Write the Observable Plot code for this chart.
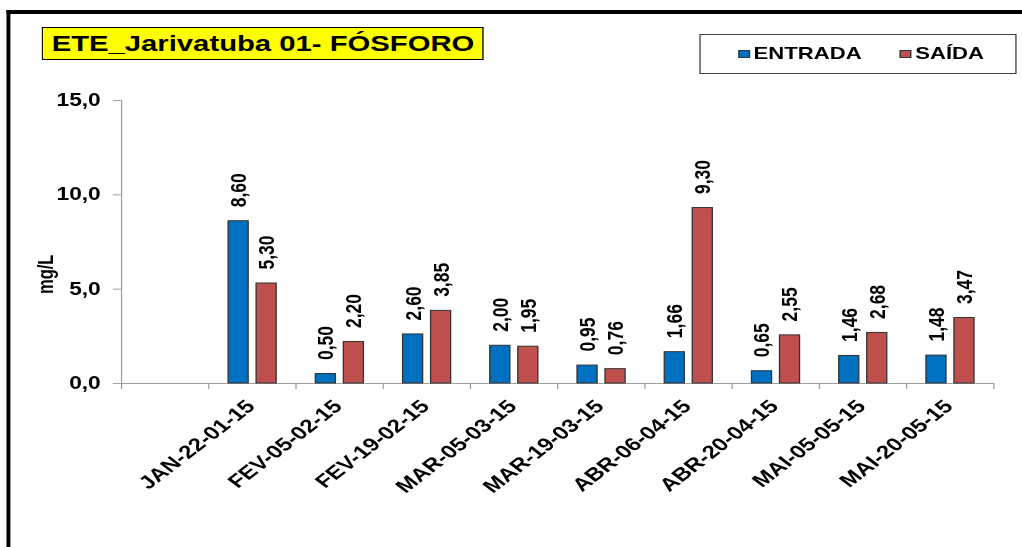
<!DOCTYPE html>
<html>
<head>
<meta charset="utf-8">
<script src="https://cdn.jsdelivr.net/npm/d3@7"></script>
<script src="https://cdn.jsdelivr.net/npm/@observablehq/plot@0.6"></script>
<style>
  html, body { margin: 0; padding: 0; background: #fff; overflow: hidden; width: 1022px; height: 547px; }
  body { font-family: "Liberation Sans", Arial, sans-serif; }
  #wrap { position: absolute; left: 0; top: 0; width: 786.15px; height: 547px; transform: scaleX(1.3); transform-origin: 0 0; }
  .frameL { position: absolute; left: 5.4px; top: 10px; width: 3.1px; height: 560px; background: #000; }
  .frameT { position: absolute; left: 5.4px; top: 10px; width: 800px; height: 4px; background: #000; }
  #title { position: absolute; left: 32.3px; top: 27px; width: 338px; height: 31px; background: #ffff00; border: 1.5px solid #000;
           font-weight: bold; font-size: 22.5px; line-height: 31px; text-align: center; color: #000; white-space: nowrap; }
  #legend { position: absolute; left: 537.7px; top: 34px; width: 242px; height: 38px; border: 1px solid #404040; background: #fff;
            font-weight: bold; font-size: 17px; color: #000; }
  .item { position: absolute; top: 0; height: 38px; line-height: 38px; white-space: nowrap; }
  .sw { position: absolute; top: 15px; width: 9px; height: 8px; border: 0.8px solid #333; box-sizing: border-box; }
  #chart { position: absolute; left: 0; top: 0; }
</style>
</head>
<body>
<div id="wrap">
  <div class="frameL"></div>
  <div class="frameT"></div>
  <div id="chart"></div>
  <div id="title"></div>
  <div id="legend"></div>
</div>
<script>
// ---- data ----
const titleText = "ETE_Jarivatuba 01- FÓSFORO";
const yLabel = "mg/L";
const categories = ["", "JAN-22-01-15", "FEV-05-02-15", "FEV-19-02-15", "MAR-05-03-15", "MAR-19-03-15",
                    "ABR-06-04-15", "ABR-20-04-15", "MAI-05-05-15", "MAI-20-05-15"];
const entrada = [null, 8.60, 0.50, 2.60, 2.00, 0.95, 1.66, 0.65, 1.46, 1.48];
const saida   = [null, 5.30, 2.20, 3.85, 1.95, 0.76, 9.30, 2.55, 2.68, 3.47];
const seriesNames = ["ENTRADA", "SAÍDA"];
const seriesColors = ["#0070C0", "#C0504D"];
const yTicks = [0, 5, 10, 15];

// ---- table built from arrays ----
const seriesValues = [entrada, saida];
const rows = [];
categories.forEach((c, i) => {
  seriesNames.forEach((s, k) => {
    const v = seriesValues[k][i];
    if (v != null) rows.push({category: c, slot: i, series: s, k, value: v});
  });
});
const labelRows = categories.map((c, i) => ({category: c, slot: i})).filter(d => d.category !== "");

// bar placement within each category slot (fractions of the slot)
const barOffsets = [[0.229, 0.459], [0.550, 0.780]];
const comma = (v, n) => v.toFixed(n).replace(".", ",");

document.getElementById("title").textContent = titleText;

const legend = document.getElementById("legend");
const legendPos = [[29, 41], [153.8, 165.3]];
seriesNames.forEach((s, k) => {
  const sw = document.createElement("div");
  sw.className = "sw";
  sw.style.left = legendPos[k][0] + "px";
  sw.style.background = seriesColors[k];
  legend.appendChild(sw);
  const t = document.createElement("div");
  t.className = "item";
  t.style.left = legendPos[k][1] + "px";
  t.textContent = s;
  legend.appendChild(t);
});

const chart = Plot.plot({
  width: 786,
  height: 547,
  marginTop: 100,
  marginBottom: 164,
  marginLeft: 93,
  marginRight: 22,
  style: {fontFamily: "'Liberation Sans', Arial, sans-serif", fontWeight: "bold", color: "#000", background: "transparent"},
  x: {type: "linear", domain: [0, categories.length], label: null},
  y: {domain: [0, 15], label: null},
  color: {domain: seriesNames, range: seriesColors},
  marks: [
    Plot.ruleX([0], {y1: 0, y2: 15, stroke: "#a0a0a0"}),
    Plot.ruleY([0], {stroke: "#a0a0a0"}),
    Plot.axisY({ticks: yTicks, tickSize: 6, tickPadding: 10, stroke: "#a0a0a0", fontSize: 17.5, fontWeight: "bold",
                tickFormat: d => comma(d, 1), label: null}),
    Plot.axisX({ticks: d3.range(0, categories.length + 1), tickSize: 6, stroke: "#a0a0a0", tickFormat: () => "", label: null}),
    Plot.rectY(rows, {
      x1: d => d.slot + barOffsets[d.k][0],
      x2: d => d.slot + barOffsets[d.k][1],
      y1: 0, y2: "value",
      fill: "series", stroke: "#333", strokeWidth: 1
    }),
    Plot.text(rows, {
      x: d => d.slot + (barOffsets[d.k][0] + barOffsets[d.k][1]) / 2,
      y: "value",
      text: d => comma(d.value, 2),
      rotate: -90, textAnchor: "start", dy: -14,
      fontSize: 17.5, fontWeight: "bold", fill: "#000"
    }),
    Plot.text(labelRows, {
      x: d => d.slot + 0.5,
      frameAnchor: "bottom",
      text: "category",
      rotate: -45, textAnchor: "end", dx: 3, dy: 24,
      fontSize: 18.5, fontWeight: "bold", fill: "#000"
    }),
    Plot.text([yLabel], {
      frameAnchor: "left", dx: -58, dy: 52, rotate: -90,
      fontSize: 16.5, fontWeight: "bold", fill: "#000"
    })
  ]
});
document.getElementById("chart").appendChild(chart);
</script>
</body>
</html>
